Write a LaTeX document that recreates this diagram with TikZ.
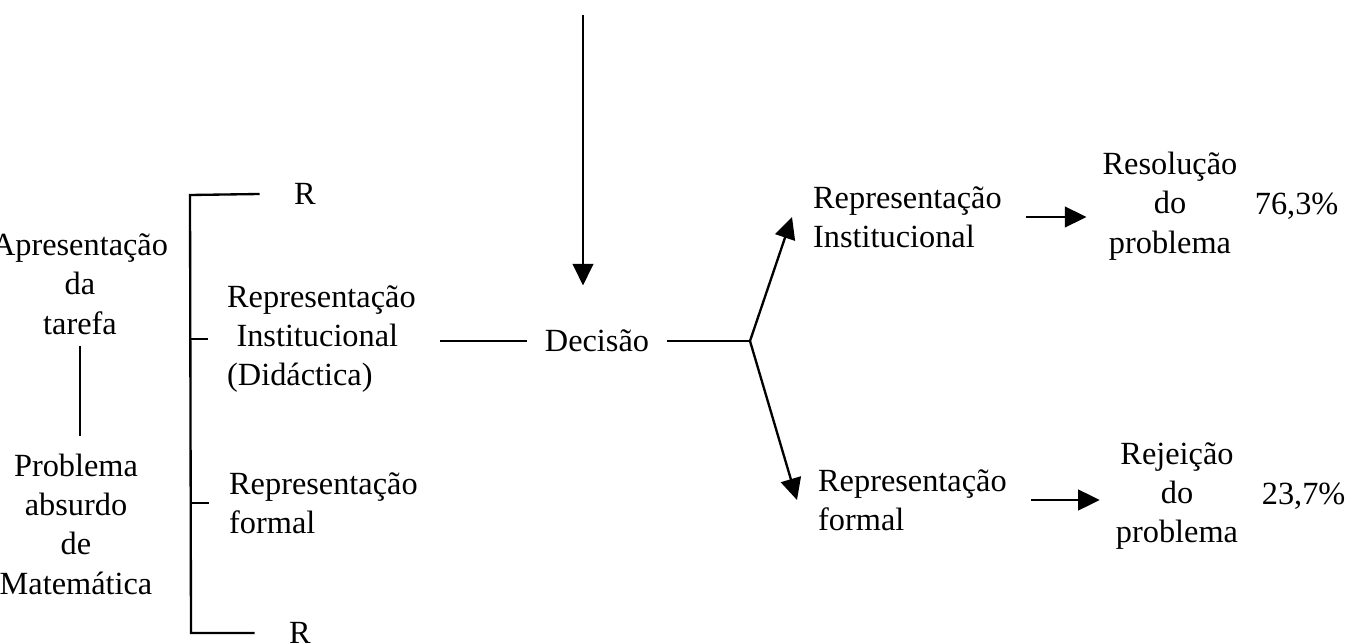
\documentclass[tikz,border=0pt]{standalone}
\usepackage{fontspec}
\setmainfont{Liberation Serif}
\usetikzlibrary{arrows.meta, positioning}

\begin{document}
\begin{tikzpicture}[x=0.3pt, y=-0.3pt, line width=0.7pt,
    >={Triangle[length=6.5pt, width=6.2pt]}, node distance=38pt, on grid,
    txt/.style={inner sep=0pt, align=center, font=\fontsize{9.7}{11.8}\selectfont},
    txtl/.style={txt, align=left, anchor=west}]
  \useasboundingbox (0,0) rectangle (1354,644);
  \node[txt] (tarefa) at (80,284) {Apresentação\\da\\tarefa};
  \node[txt] (absurdo) at (76,524) {Problema\\absurdo\\de\\Matemática};
  \node[txt] (rtop) at (305,194) {R};
  \node[txt] (rbot) at (300,633) {R};
  \node[txtl] (didact) at (226,339) {Representação\\\hspace{2.8pt}Institucional\\(Didáctica)};
  \node[txtl] (formal) at (228,503) {Representação\\formal};
  \node[txt] (decisao) at (597,341) {Decisão};
  \node[txtl] (rinst) at (812,217) {Representação\\Institucional};
  \node[txtl] (rform) at (817,500) {Representação\\formal};
  \node[txt] (resol) at (1170,206) {Resolução\\do\\problema};
  \node[txt] (rejeic) at (1177,496) {Rejeição\\do\\problema};
  \node[txt] (p1) [right=of resol] {76,3\%};
  \node[txt] (p2) [right=of rejeic] {23,7\%};
  \coordinate (top) at (583,15);
  \coordinate (bt) at (190,195);
  \coordinate (bb) at (191,633);
  \coordinate (junc) at (750,341);

  \draw[shorten <=3pt, shorten >=5pt] (tarefa.south) -- (tarefa.south |- absurdo.north);
  \draw ([xshift=-10pt]rtop.west) -- (bt) -- (bb) -- ([xshift=-10pt]rbot.west);
  \draw (bt |- didact.west) -- ++(18,0);
  \draw (bb |- formal.west) -- ++(18,0);
  \draw[shorten <=7pt, shorten >=5pt] (didact.east |- decisao) -- (decisao.west);
  \draw[shorten <=5pt] (decisao.east) -- (junc);
  \path[->]
    (top) edge [shorten >=13pt] (top |- decisao.north)
    (junc) edge ([xshift=-6pt]rinst.west)
    (junc) edge ([xshift=-6pt]rform.west)
    (rinst.east) edge [shorten <=7pt, shorten >=4.5pt] (rinst.east -| resol.west)
    (rform.east) edge [shorten <=7pt, shorten >=4.5pt] (rform.east -| rejeic.west)
  ;
\end{tikzpicture}
\end{document}
